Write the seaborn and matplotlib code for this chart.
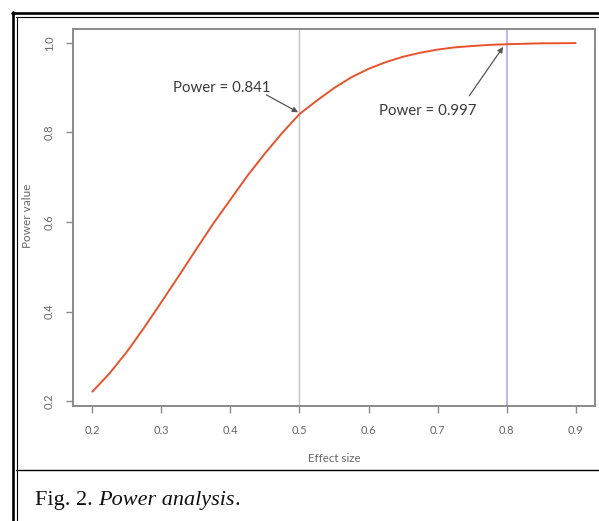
import matplotlib
matplotlib.use("Agg")
import matplotlib.pyplot as plt
from matplotlib.lines import Line2D
import seaborn as sns
import pandas as pd

# Data
effect_size = [0.200, 0.225, 0.250, 0.275, 0.300, 0.325, 0.350, 0.375, 0.400, 0.425,
               0.450, 0.475, 0.500, 0.525, 0.550, 0.575, 0.600, 0.625, 0.650, 0.675,
               0.700, 0.725, 0.750, 0.775, 0.800, 0.825, 0.850, 0.875, 0.900]
power_value = [0.221, 0.262, 0.310, 0.364, 0.421, 0.479, 0.538, 0.596, 0.650, 0.704,
               0.753, 0.799, 0.841, 0.871, 0.899, 0.923, 0.942, 0.957, 0.969, 0.978,
               0.985, 0.990, 0.993, 0.9955, 0.997, 0.998, 0.999, 0.9992, 0.9995]
x_ticks = [0.2, 0.3, 0.4, 0.5, 0.6, 0.7, 0.8, 0.9]
y_ticks = [0.2, 0.4, 0.6, 0.8, 1.0]
marked_effects = [0.5, 0.8]
marked_powers = [0.841, 0.997]
marked_labels = ["Power = 0.841", "Power = 0.997"]
caption_parts = ["Fig. 2. ", "Power analysis", "."]

sns.set_style("white")
plt.rcParams["font.family"] = ["Lato", "DejaVu Sans"]

W, H = 599, 521
fig = plt.figure(figsize=(W / 100, H / 100), dpi=100)
fig.patch.set_facecolor("white")

def fx(px):
    return px / W

def fy(py):
    return 1 - py / H

ax = fig.add_axes([fx(73), fy(406), fx(595) - fx(73), fy(29) - fy(406)])

df = pd.DataFrame({"Effect size": effect_size, "Power value": power_value})
sns.lineplot(data=df, x="Effect size", y="Power value", ax=ax,
             color="#e8532e", linewidth=1.4, zorder=3)

# vertical reference lines
ax.axvline(marked_effects[0], color="#c4c4cc", linewidth=1.0, zorder=2)
ax.axvline(marked_effects[1], color="#b4b4ec", linewidth=1.3, zorder=2)

ax.set_xlim(0.172, 0.928)
ax.set_ylim(0.189, 1.031)
ax.set_xticks(x_ticks)
ax.set_yticks(y_ticks)
ax.set_xticklabels([f"{v:.1f}" for v in x_ticks])
ax.set_yticklabels([f"{v:.1f}" for v in y_ticks], rotation=90, va="center")

for s in ax.spines.values():
    s.set_visible(True)
    s.set_color("#8a8a8a")
    s.set_linewidth(1.4)

ax.tick_params(axis="both", direction="out", length=5, width=1.0, color="#8a8a8a",
               labelcolor="#666666", labelsize=8, pad=9, bottom=True, left=True)
ax.tick_params(axis="y", pad=8)

ax.set_xlabel("Effect size", fontsize=8.3, color="#666666", labelpad=12)
ax.set_ylabel("Power value", fontsize=8.5, color="#666666")
ax.yaxis.set_label_coords(-0.076, 0.504)

# annotations
ax.text(0.387, 0.899, marked_labels[0], ha="center", va="center",
        fontsize=10.8, color="#3a3a3a")
ax.annotate("", xy=(marked_effects[0] - 0.002, marked_powers[0] + 0.004),
            xytext=(0.452, 0.884),
            arrowprops=dict(arrowstyle="-|>", color="#555555", lw=0.9,
                            mutation_scale=8, shrinkA=0, shrinkB=0))
ax.text(0.6855, 0.848, marked_labels[1], ha="center", va="center",
        fontsize=10.8, color="#3a3a3a")
ax.annotate("", xy=(marked_effects[1] - 0.005, marked_powers[1] - 0.006),
            xytext=(0.746, 0.882),
            arrowprops=dict(arrowstyle="-|>", color="#555555", lw=0.9,
                            mutation_scale=8, shrinkA=0, shrinkB=0))

# frame / border of the figure panel
fig.add_artist(Line2D([fx(13), fx(13)], [fy(12), 0], color="black", linewidth=1.9))
fig.add_artist(Line2D([fx(16.5), fx(16.5)], [fy(16.5), 0], color="black", linewidth=0.8))
fig.add_artist(Line2D([fx(12), 1], [fy(13), fy(13)], color="black", linewidth=1.9))
fig.add_artist(Line2D([fx(16), 1], [fy(16.5), fy(16.5)], color="black", linewidth=0.8))
fig.add_artist(Line2D([fx(16), 1], [fy(470), fy(470)], color="black", linewidth=1.0))

# caption, pieces placed side by side using measured extents
renderer = fig.canvas.get_renderer()
x_px = 35
styles = ["normal", "italic", "normal"]
for part, st in zip(caption_parts, styles):
    t = fig.text(fx(x_px), fy(505), part, fontsize=16, family=["Liberation Serif"],
                 style=st, ha="left", va="baseline", color="#111111")
    bb = t.get_window_extent(renderer=renderer)
    x_px += bb.width

fig.savefig("out.png", dpi=100, facecolor="white")
